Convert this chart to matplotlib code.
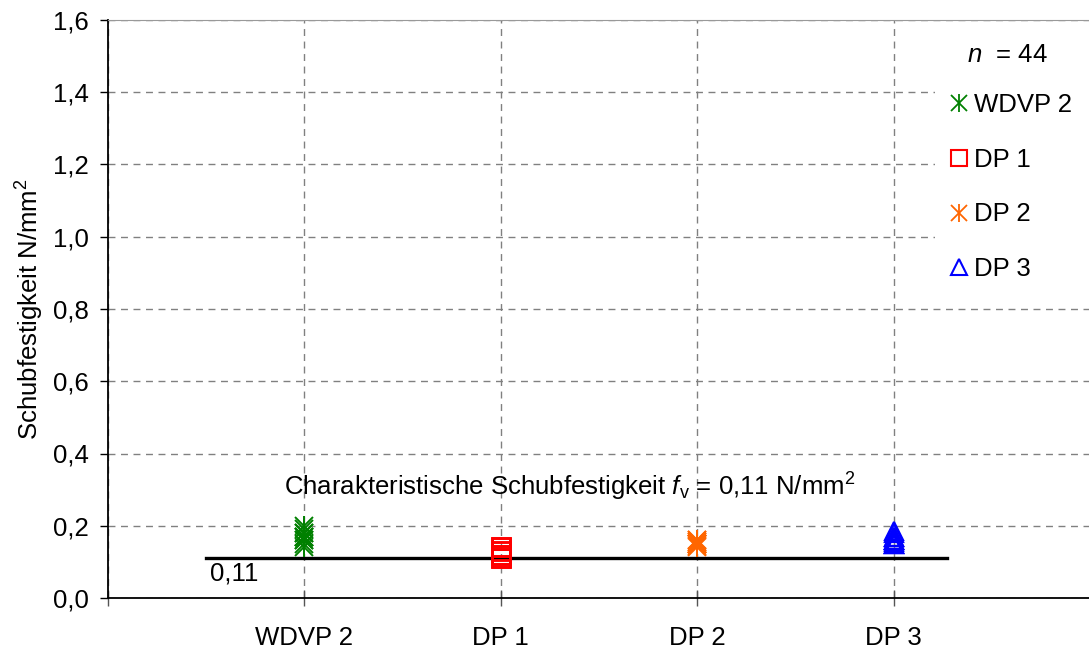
import matplotlib.pyplot as plt
from matplotlib.lines import Line2D
from matplotlib.patches import Rectangle
from matplotlib.legend_handler import HandlerTuple

plt.rcParams['font.family'] = ['Liberation Sans', 'DejaVu Sans']
plt.rcParams['mathtext.fontset'] = 'custom'
plt.rcParams['mathtext.rm'] = 'Liberation Sans'
plt.rcParams['mathtext.it'] = 'Liberation Sans:italic'

# Groups and measured shear strengths (N/mm²), 11 specimens each
groups = ['WDVP 2', 'DP 1', 'DP 2', 'DP 3']
wdvp2 = [0.14, 0.15, 0.16, 0.16, 0.17, 0.17, 0.17, 0.18, 0.18, 0.19, 0.20]
dp1 = [0.11, 0.11, 0.11, 0.12, 0.12, 0.12, 0.13, 0.13, 0.14, 0.14, 0.14]
dp2 = [0.14, 0.145, 0.15, 0.15, 0.15, 0.15, 0.155, 0.155, 0.16, 0.16, 0.15]
dp3 = [0.15, 0.15, 0.15, 0.155, 0.16, 0.16, 0.16, 0.17, 0.17, 0.18, 0.185]
f_v = 0.11
n_total = len(wdvp2) + len(dp1) + len(dp2) + len(dp3)

fs = 18.5

fig = plt.figure(figsize=(10.89, 6.48), dpi=100)
ax = fig.add_axes([108 / 1089, 50 / 648, 982 / 1089, 578 / 648])

green = '#008000'
red = '#ff0000'
orange = '#ff6600'
blue = '#0000ff'

# asterisk markers = x plus vertical bar
def asterisk(xpos, vals, color, size):
    ax.plot([xpos] * len(vals), vals, ls='none', marker='x', ms=size, mec=color, mew=1.4, zorder=4)
    ax.plot([xpos] * len(vals), vals, ls='none', marker='|', ms=size * 1.15, mec=color, mew=1.4, zorder=4)

asterisk(1, wdvp2, green, 13)
ax.plot([2] * len(dp1), dp1, ls='none', marker='s', ms=13.5, mfc='none', mec=red, mew=1.8, zorder=4)
asterisk(3, dp2, orange, 13)
ax.plot([4] * len(dp3), dp3, ls='none', marker='^', ms=13, mfc='none', mec=blue, mew=1.6, zorder=4)

# characteristic value line
ax.plot([0.5, 4.27], [f_v, f_v], color='black', lw=2.4, zorder=3)
ax.text(0.52, f_v - 0.01, '0,11', fontsize=fs, ha='left', va='top')
ax.text(2.35, 0.307, 'Charakteristische Schubfestigkeit $f_{\\mathrm{v}}$ = 0,11 N/mm$^2$',
        fontsize=fs, ha='center', va='center')

ax.set_xlim(0, 5)
ax.set_ylim(0, 1.6)
ax.set_yticks([i * 0.2 for i in range(9)])
ax.set_yticklabels([f'{i * 0.2:.1f}'.replace('.', ',') for i in range(9)], fontsize=fs)
ax.set_xticks([0, 1, 2, 3, 4])
ax.set_xticklabels([''] + groups, fontsize=fs)
ax.tick_params(axis='x', direction='inout', length=12, width=1, pad=14, color='#555555')
ax.tick_params(axis='y', direction='out', length=6, width=1, pad=8)
ax.set_ylabel('Schubfestigkeit N/mm$^2$', fontsize=fs, labelpad=5)

ax.grid(True, color='#808080', ls=(0, (5, 4)), lw=1)
ax.set_axisbelow(True)
ax.spines['right'].set_visible(False)
ax.spines['top'].set_color('#999999')
ax.spines['left'].set_linewidth(1.3)
ax.spines['bottom'].set_linewidth(1.3)

# white legend area over the grid
ax.add_patch(Rectangle((4.21, 0.853), 0.8, 0.72, facecolor='white', edgecolor='none', zorder=2))
ax.text(4.58, 1.503, f'$n$  = {n_total}', fontsize=fs, ha='center', va='center', zorder=5)

def ast_handle(color):
    return (Line2D([], [], ls='none', marker='x', ms=12, mec=color, mew=1.3),
            Line2D([], [], ls='none', marker='|', ms=13, mec=color, mew=1.3))

handles = [ast_handle(green),
           Line2D([], [], ls='none', marker='s', ms=12, mfc='none', mec=red, mew=1.5),
           ast_handle(orange),
           Line2D([], [], ls='none', marker='^', ms=12, mfc='none', mec=blue, mew=1.5)]
leg = ax.legend(handles, groups, handler_map={tuple: HandlerTuple(ndivide=1)},
                fontsize=fs, loc='upper left', bbox_to_anchor=(0.857, 0.874),
                frameon=False, handlelength=0.7, handletextpad=0.25,
                labelspacing=1.2, borderpad=0, borderaxespad=0)
leg.set_zorder(5)

fig.savefig('out.png', dpi=100)
